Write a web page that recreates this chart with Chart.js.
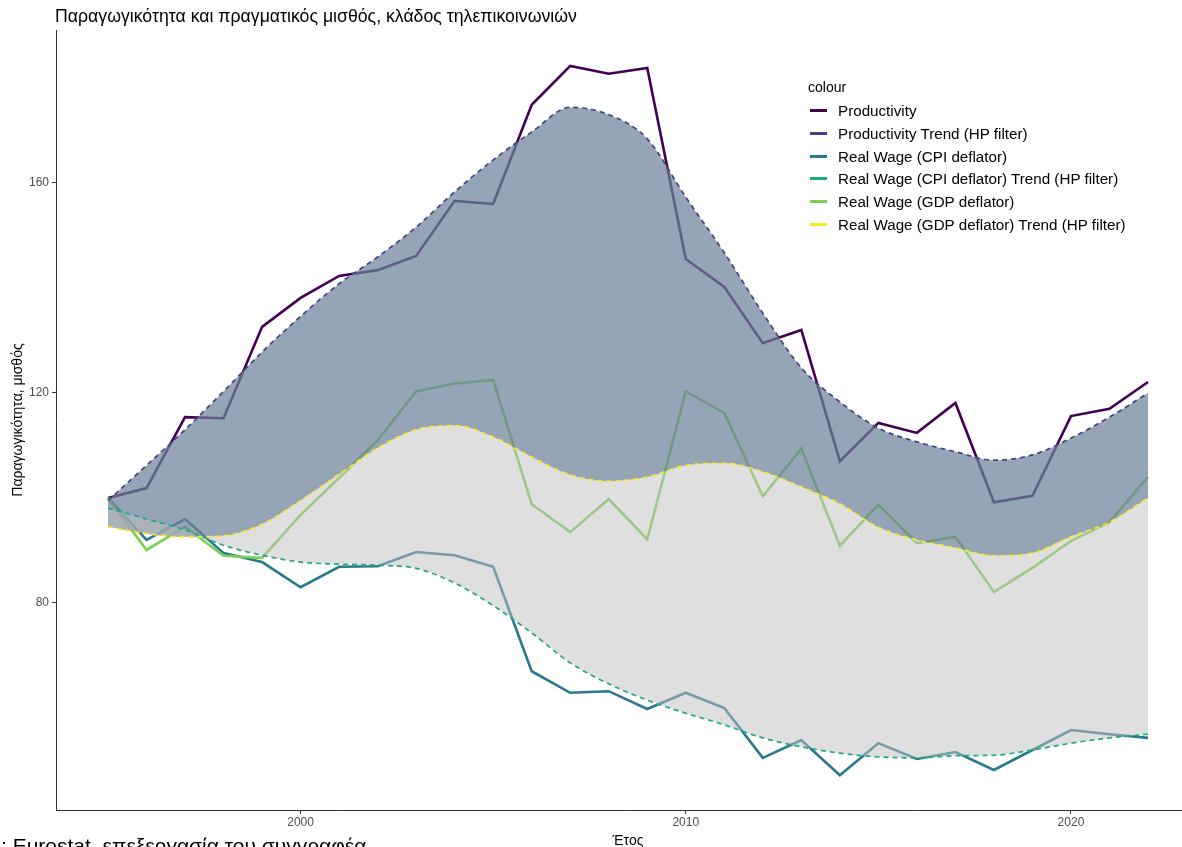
<!DOCTYPE html>
<html>
<head>
<meta charset="utf-8">
<script src="https://cdn.jsdelivr.net/npm/chart.js@4.4.1/dist/chart.umd.min.js"></script>
<style>
html,body{margin:0;padding:0;background:#fff;overflow:hidden;}
#wrap{position:relative;width:1182px;height:847px;overflow:hidden;font-family:"Liberation Sans",Arial,sans-serif;}
canvas{position:absolute;left:0;top:0;}
#title{position:absolute;left:55px;top:6px;font-size:17.7px;line-height:20px;color:#000;white-space:nowrap;}
#legend{position:absolute;left:808px;top:78px;color:#000;}
#legend .hd{font-size:14px;line-height:18px;height:21px;}
#legend .row{position:relative;height:22.8px;line-height:23px;font-size:15.2px;white-space:nowrap;}
#legend .key{position:absolute;left:2px;top:10px;width:17px;height:3px;}
#legend .txt{position:absolute;left:30px;top:0;}
#cap{position:absolute;top:835px;font-size:21px;line-height:21px;color:#000;white-space:nowrap;}
</style>
</head>
<body>
<div id="wrap">
<canvas id="c" width="1200" height="847"></canvas>
<div id="title">Παραγωγικότητα και πραγματικός μισθός, κλάδος τηλεπικοινωνιών</div>
<div id="legend"></div>
<div id="cap"><span id="pre">Πηγή</span>: Eurostat, επεξεργασία του συγγραφέα</div>
</div>
<script>
// ---- data ----
const years = [1995,1996,1997,1998,1999,2000,2001,2002,2003,2004,2005,2006,2007,2008,2009,2010,2011,2012,2013,2014,2015,2016,2017,2018,2019,2020,2021,2022];
const productivity = [100,101.9,115.4,115.2,132.6,138.1,142.3,143.4,146.1,156.6,156.0,174.9,182.3,180.8,181.9,145.5,140.2,129.5,132.0,107.0,114.3,112.4,118.1,99.2,100.4,115.6,117.0,122.1];
const productivityTrend = [99.5,106.2,113.0,120.3,127.8,134.6,140.8,145.9,151.6,158.3,164.4,169.7,174.4,173.0,168.4,157.3,146.7,135.2,124.8,118.3,113.3,110.7,108.8,107.2,108.2,111.4,115.4,120.0];
const realWageCPI = [100,92.0,96.0,89.5,87.8,83.0,86.9,87.0,89.7,89.1,86.9,67.0,62.9,63.2,59.8,62.9,60.0,50.5,53.9,47.2,53.3,50.3,51.6,48.2,52.0,55.8,55.0,54.3];
const realWageCPITrend = [98.1,96.0,93.9,91.0,89.1,87.8,87.4,87.2,86.6,83.8,79.5,74.3,68.6,64.6,61.5,59.0,56.8,54.3,52.6,51.4,50.7,50.5,50.9,51.0,52.0,53.3,54.3,55.0];
const realWageGDP = [100,90.1,94.5,89.0,88.6,96.8,103.8,111.0,120.3,121.8,122.5,98.8,93.5,99.8,92.1,120.3,116.2,100.3,109.4,90.9,98.7,91.4,92.6,82.1,86.7,91.8,95.4,104.0];
const realWageGDPTrend = [94.5,93.2,92.6,92.8,95.0,99.5,104.5,109.5,113.0,113.8,111.6,107.8,104.4,103.2,104.0,106.2,106.6,105.0,102.1,98.9,94.4,92.0,90.5,89.0,89.5,92.6,95.4,100.0];
const xTicks = [2000,2010,2020];
const yTicks = [80,120,160];
const seriesLabels = ["Productivity","Productivity Trend (HP filter)","Real Wage (CPI deflator)","Real Wage (CPI deflator) Trend (HP filter)","Real Wage (GDP deflator)","Real Wage (GDP deflator) Trend (HP filter)"];
const seriesColors = ["#440154","#414487","#2A788E","#22A884","#7AD151","#FDE725"];

// ---- legend (HTML) ----
const lg = document.getElementById('legend');
let html = '<div class="hd">colour</div>';
seriesLabels.forEach((l,i)=>{
  html += '<div class="row"><div class="key" style="background:'+seriesColors[i]+'"></div><div class="txt">'+l+'</div></div>';
});
lg.innerHTML = html;
// caption: shift so that "Πηγή" is cut off at the left edge
const pre = document.getElementById('pre');
document.getElementById('cap').style.left = (-pre.getBoundingClientRect().width + 1) + 'px';

const pts = v => years.map((x,i)=>({x:x, y:v[i]}));
const FONT = "'Liberation Sans', Arial, sans-serif";
const dash = [5,4];

new Chart(document.getElementById('c'), {
  type:'line',
  data:{datasets:[
    {label:seriesLabels[0], data:pts(productivity), borderColor:seriesColors[0], borderWidth:2.6, pointRadius:0, fill:false, order:12},
    {label:seriesLabels[2], data:pts(realWageCPI), borderColor:seriesColors[2], borderWidth:2.6, pointRadius:0, fill:false, order:11},
    {label:seriesLabels[4], data:pts(realWageGDP), borderColor:seriesColors[4], borderWidth:2.6, pointRadius:0, fill:false, order:10},
    {label:seriesLabels[1], data:pts(productivityTrend), borderColor:seriesColors[1], borderWidth:1.7, borderDash:dash, pointRadius:0,
      fill:{target:4}, backgroundColor:'rgba(108,130,153,0.72)', order:3, cubicInterpolationMode:'monotone'},
    {label:seriesLabels[5], data:pts(realWageGDPTrend), borderColor:seriesColors[5], borderWidth:1.7, borderDash:dash, pointRadius:0,
      fill:{target:5}, backgroundColor:'rgba(191,191,191,0.5)', order:2, cubicInterpolationMode:'monotone'},
    {label:seriesLabels[3], data:pts(realWageCPITrend), borderColor:seriesColors[3], borderWidth:1.7, borderDash:dash, pointRadius:0,
      fill:false, order:1, cubicInterpolationMode:'monotone'}
  ]},
  options:{
    responsive:false, animation:false, devicePixelRatio:1,
    layout:{padding:{top:30,right:0,bottom:0,left:0}},
    plugins:{legend:{display:false}, tooltip:{enabled:false}, title:{display:false}},
    scales:{
      x:{type:'linear', min:1993.65, max:2023.35,
        afterBuildTicks:s=>{s.ticks = xTicks.map(v=>({value:v}));},
        afterFit:s=>{s.height = 37;},
        grid:{display:true, drawOnChartArea:false, drawTicks:true, tickLength:4, color:'#333333', tickColor:'#333333'},
        border:{display:true, color:'#333333', width:1},
        ticks:{font:{family:FONT, size:12}, color:'#4D4D4D', padding:1, maxRotation:0, autoSkip:false, callback:v=>String(v)},
        title:{display:true, text:'Έτος', font:{family:FONT, size:14, lineHeight:0.9}, color:'#000', padding:{top:0,bottom:0}}
      },
      y:{type:'linear', min:40.57, max:189.14,
        afterBuildTicks:s=>{s.ticks = yTicks.map(v=>({value:v}));},
        afterFit:s=>{s.width = 56;},
        grid:{display:true, drawOnChartArea:false, drawTicks:true, tickLength:4, color:'#333333', tickColor:'#333333'},
        border:{display:true, color:'#333333', width:1},
        ticks:{font:{family:FONT, size:12}, color:'#4D4D4D', padding:3, autoSkip:false, callback:v=>String(v)},
        title:{display:true, text:'Παραγωγικότητα, μισθός', font:{family:FONT, size:14}, color:'#000', padding:{top:10,bottom:0}}
      }
    }
  }
});
</script>
</body>
</html>
